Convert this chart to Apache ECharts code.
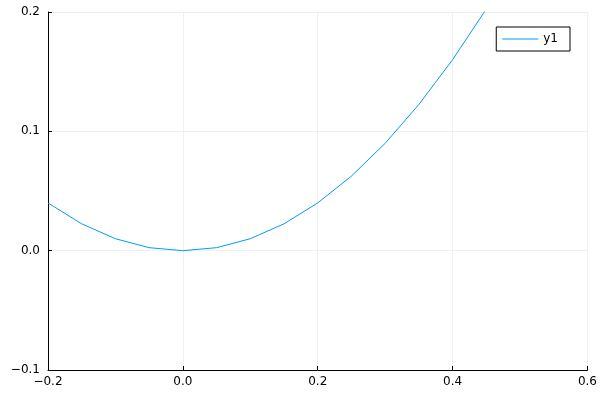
<!DOCTYPE html>
<html>
<head>
<meta charset="utf-8">
<script src="https://cdn.jsdelivr.net/npm/echarts@6/dist/echarts.min.js"></script>
<style>html,body{margin:0;padding:0;background:#fff}#c{width:600px;height:400px}</style>
</head>
<body>
<div id="c"></div>
<script>
const xValues = [-0.2, -0.15, -0.1, -0.05, 0.0, 0.05, 0.1, 0.15, 0.2, 0.25, 0.3, 0.35, 0.4, 0.45, 0.5];
const y1Values = [0.04, 0.0225, 0.01, 0.0025, 0.0, 0.0025, 0.01, 0.0225, 0.04, 0.0625, 0.09, 0.1225, 0.16, 0.2025, 0.25];
const seriesName = 'y1';

const fmt = v => { let s = (Math.abs(v) < 1e-9 ? 0 : v).toFixed(1); return s.replace('-', '\u2212'); };
const chart = echarts.init(document.getElementById('c'), null, {renderer: 'canvas'});
const axisCommon = {
  type: 'value',
  axisLine: {show: true, onZero: false, lineStyle: {color: '#000', width: 1}},
  axisTick: {show: true, inside: true, length: 4, lineStyle: {color: '#000'}},
  axisLabel: {color: '#000', fontSize: 12, fontFamily: 'DejaVu Sans', formatter: fmt},
  splitLine: {show: true, lineStyle: {color: '#f0f0f0', width: 1}}
};
chart.setOption({
  animation: false,
  backgroundColor: '#fff',
  grid: {left: 48, right: 12, top: 12, bottom: 30, containLabel: false},
  xAxis: Object.assign({}, axisCommon, {min: -0.2, max: 0.6, interval: 0.2,
    axisLabel: Object.assign({}, axisCommon.axisLabel, {margin: 6})}),
  yAxis: Object.assign({}, axisCommon, {min: -0.1, max: 0.2, interval: 0.1,
    axisLabel: Object.assign({}, axisCommon.axisLabel, {margin: 8})}),
  legend: {
    right: 30, top: 27, orient: 'vertical',
    borderColor: '#000', borderWidth: 1, padding: [5, 12, 5, 6],
    icon: 'rect', itemWidth: 36, itemHeight: 1, itemGap: 4,
    textStyle: {color: '#000', fontSize: 12, fontFamily: 'DejaVu Sans', lineHeight: 14},
    data: [seriesName]
  },
  series: [{
    name: seriesName, type: 'line', symbol: 'none', clip: true,
    lineStyle: {color: '#009AFA', width: 1}, itemStyle: {color: '#009AFA'},
    data: xValues.map((x, i) => [x, y1Values[i]])
  }]
});
</script>
</body>
</html>
